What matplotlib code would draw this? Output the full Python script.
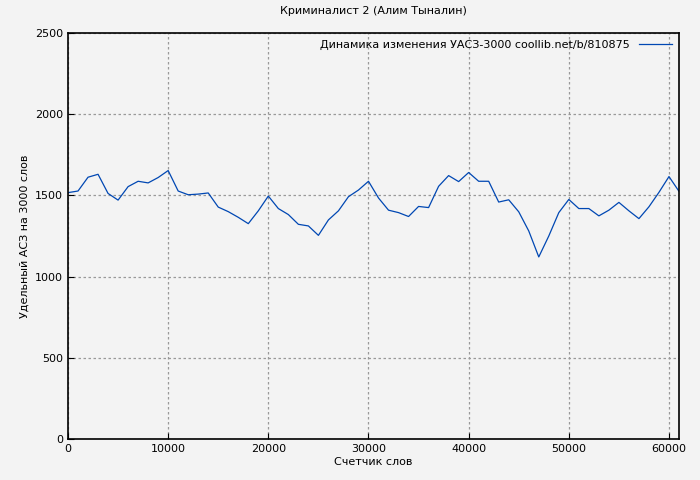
import matplotlib
matplotlib.use("Agg")
import matplotlib.pyplot as plt

words = list(range(0, 62000, 1000))
values = [1517,1527,1612,1630,1512,1471,1554,1587,1577,1610,1653,1527,1504,1508,1515,1428,1400,1365,1326,1405,
          1496,1419,1382,1322,1312,1254,1349,1405,1492,1533,1587,1484,1409,1394,1370,1432,1425,1556,1622,1585,
          1641,1587,1587,1459,1473,1399,1281,1121,1250,1394,1475,1419,1419,1374,1409,1457,1405,1357,1430,1519,
          1616,1525]

plt.rcParams['font.family'] = ['DejaVu Sans']
fig = plt.figure(figsize=(7, 4.8), dpi=100, facecolor='#f3f3f3')
ax = fig.add_axes([68/700, 41/480, 611/700, 406/480])
ax.set_facecolor('#f3f3f3')
ax.plot(words, values, color='#0047b3', lw=0.9, label='Динамика изменения УАСЗ-3000 coollib.net/b/810875')
ax.set_xlim(0, 61000)
ax.set_ylim(0, 2500)
ax.set_xticks(range(0, 61000, 10000))
ax.set_yticks(range(0, 2501, 500))
ax.grid(True, color='#999999', ls=(0, (2, 2)), lw=0.9)
ax.tick_params(labelsize=8, direction='in', length=4)
for s in ax.spines.values():
    s.set_linewidth(1.2)
ax.set_title('Криминалист 2 (Алим Тыналин)', fontsize=8, pad=14)
ax.set_xlabel('Счетчик слов', fontsize=8, labelpad=2)
ax.set_ylabel('Удельный АСЗ на 3000 слов', fontsize=8)
leg = ax.legend(loc='upper right', fontsize=8, frameon=False, markerfirst=False, handlelength=3,
                borderaxespad=0.2)
fig.savefig('out.png', dpi=100, facecolor=fig.get_facecolor())
